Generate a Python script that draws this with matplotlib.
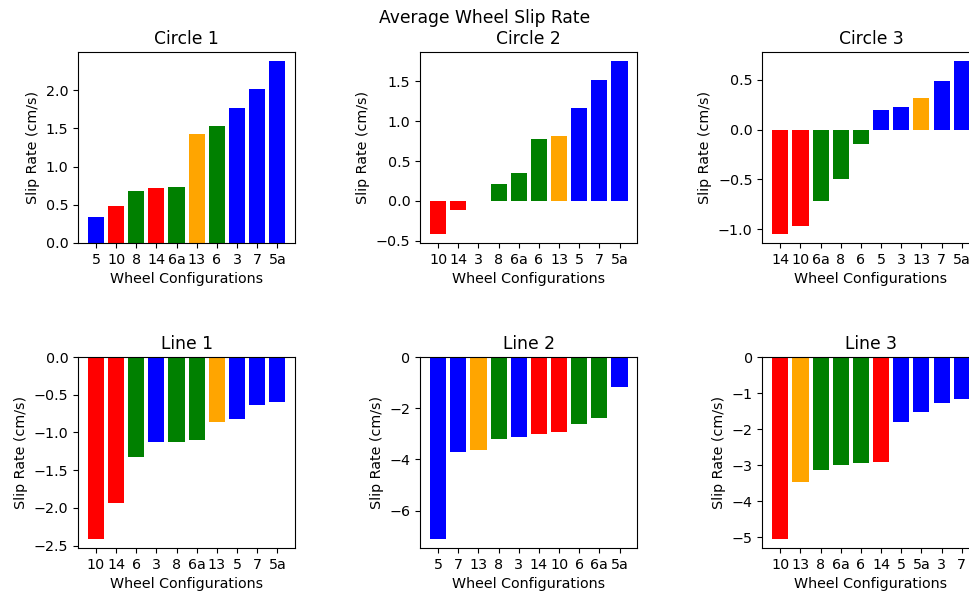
import matplotlib.pyplot as plt

plt.rcParams["font.size"] = 10.3

# colour per wheel configuration
config_colors = {
    "3": "blue", "5": "blue", "5a": "blue", "7": "blue",
    "10": "red", "14": "red",
    "6": "green", "6a": "green", "8": "green",
    "13": "orange",
}

circle1_labels = ["5", "10", "8", "14", "6a", "13", "6", "3", "7", "5a"]
circle1_values = [0.34, 0.49, 0.68, 0.72, 0.73, 1.42, 1.53, 1.76, 2.02, 2.38]

circle2_labels = ["10", "14", "3", "8", "6a", "6", "13", "5", "7", "5a"]
circle2_values = [-0.42, -0.12, 0.0, 0.21, 0.35, 0.78, 0.82, 1.16, 1.52, 1.76]

circle3_labels = ["14", "10", "6a", "8", "6", "5", "3", "13", "7", "5a"]
circle3_values = [-1.05, -0.97, -0.72, -0.50, -0.15, 0.20, 0.23, 0.32, 0.49, 0.69]

line1_labels = ["10", "14", "6", "3", "8", "6a", "13", "5", "7", "5a"]
line1_values = [-2.41, -1.93, -1.32, -1.12, -1.12, -1.10, -0.86, -0.82, -0.63, -0.60]

line2_labels = ["5", "7", "13", "8", "3", "14", "10", "6", "6a", "5a"]
line2_values = [-7.10, -3.71, -3.62, -3.20, -3.14, -3.01, -2.94, -2.61, -2.37, -1.16]

line3_labels = ["10", "13", "8", "6a", "6", "14", "5", "5a", "3", "7"]
line3_values = [-5.04, -3.46, -3.14, -3.00, -2.94, -2.91, -1.79, -1.51, -1.28, -1.17]

runs = [
    ("Circle 1", circle1_labels, circle1_values),
    ("Circle 2", circle2_labels, circle2_values),
    ("Circle 3", circle3_labels, circle3_values),
    ("Line 1", line1_labels, line1_values),
    ("Line 2", line2_labels, line2_values),
    ("Line 3", line3_labels, line3_values),
]

fig, axes = plt.subplots(2, 3, figsize=(9.69, 5.96), dpi=100)
fig.subplots_adjust(left=0.0805, right=1.011, top=0.9128, bottom=0.0805,
                    wspace=0.575, hspace=0.597)

for ax, (title, labels, values) in zip(axes.flat, runs):
    ax.bar(labels, values, color=[config_colors[c] for c in labels])
    ax.set_title(title)
    ax.set_xlabel("Wheel Configurations")
    ax.set_ylabel("Slip Rate (cm/s)")

fig.suptitle("Average Wheel Slip Rate", y=0.985)

plt.savefig("out.png", dpi=100)
